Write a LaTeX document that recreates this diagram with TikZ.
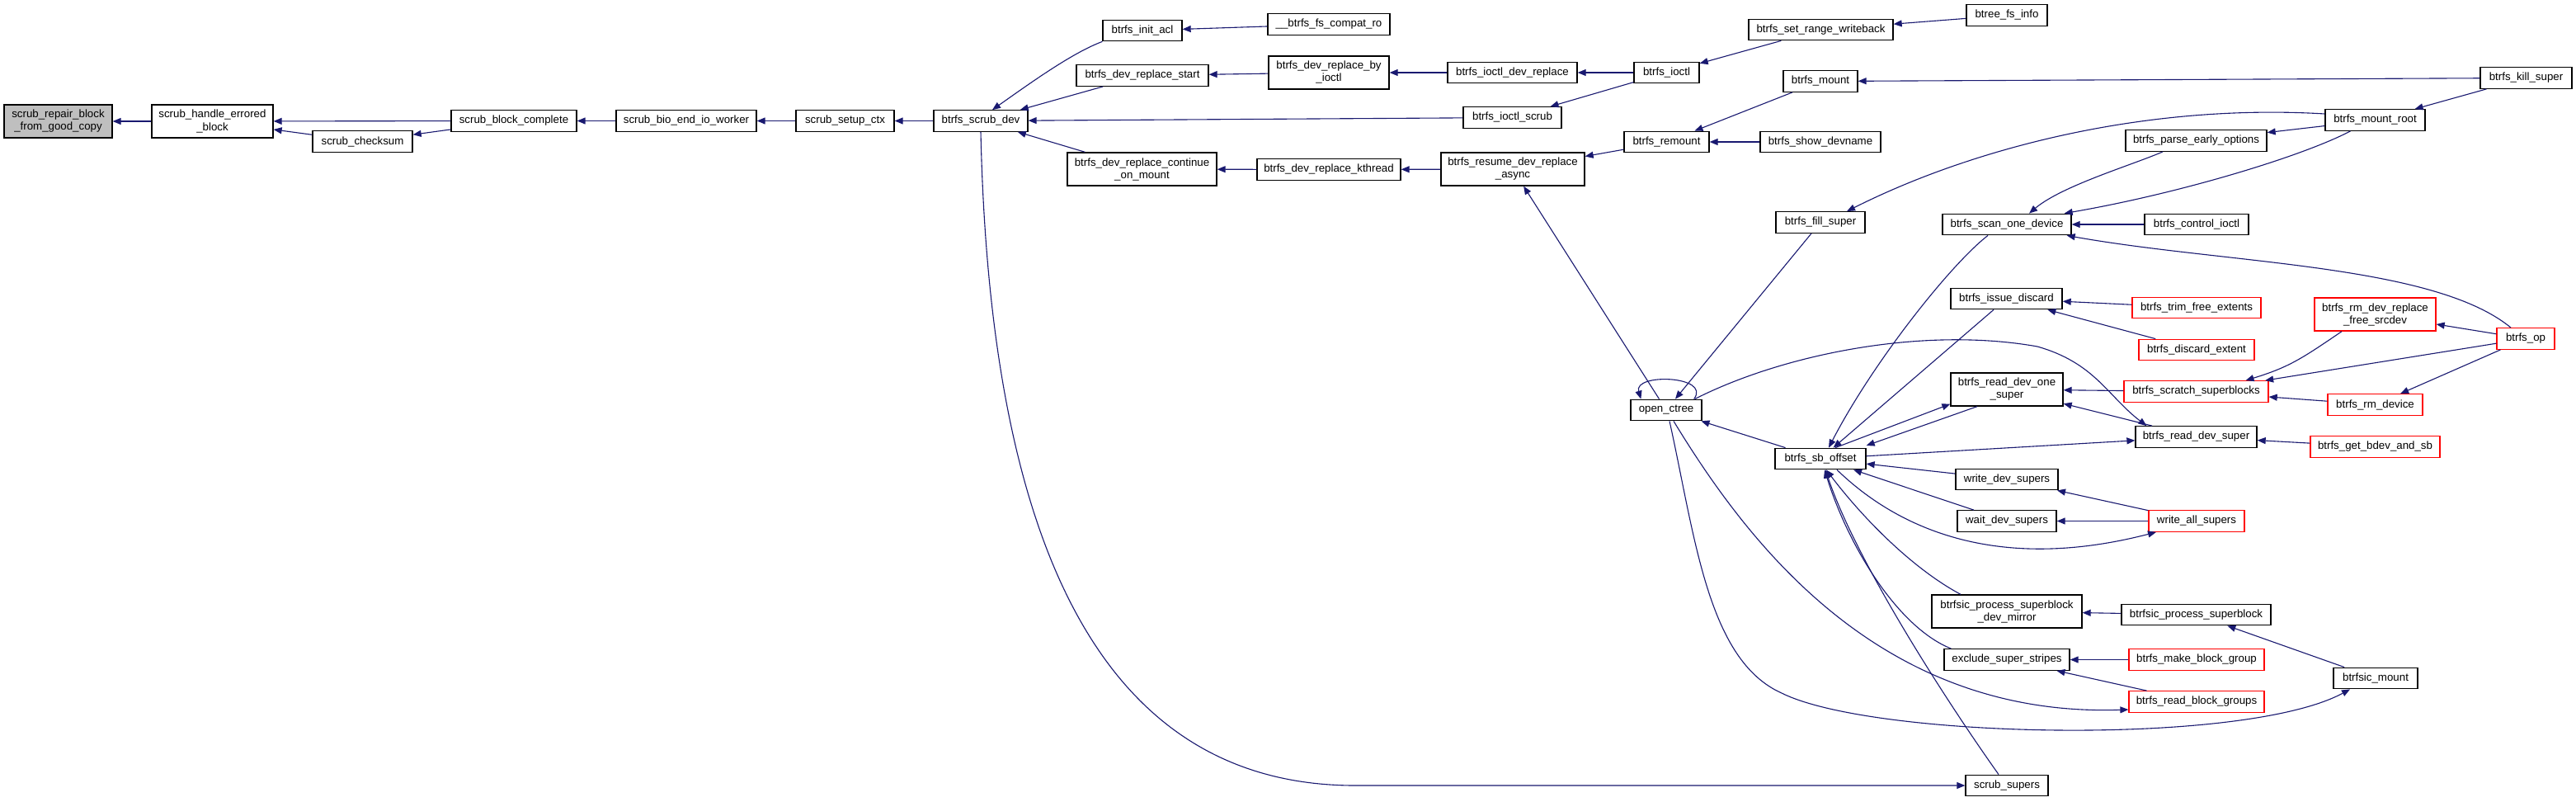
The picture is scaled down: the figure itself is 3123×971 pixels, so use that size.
\documentclass[tikz,border=0pt]{standalone}
\usepackage{fontspec}
\setmainfont{Liberation Sans}
\usetikzlibrary{arrows.meta}
\definecolor{edgeblue}{HTML}{191970}
\definecolor{rootgray}{HTML}{BFBFBF}

\begin{document}
\begin{tikzpicture}[x=1bp, y=-1bp,
      every node/.style={font={\fontsize{13.3bp}{15bp}\selectfont}},
      func/.style={draw=black, fill=white, line width=1.3bp, inner sep=0pt,
        minimum height=25.5bp, align=center},
      trunc/.style={func, draw=red},
      rootfn/.style={func, fill=rootgray},
      twoline/.style={minimum height=40bp},
      calledge/.style={draw=edgeblue, line width=1.1bp,
        -{Triangle[length=10bp, width=8bp]}}]
    \fill[white] (0,0) rectangle (3123,971);
    \useasboundingbox (0,0) rectangle (3123,971);

    \node[rootfn, twoline, minimum width=131bp] (repair) at (70.5,147) {scrub\_repair\_block\\\_from\_good\_copy};
    \node[func, twoline, minimum width=147bp] (handle) at (257.5,147) {scrub\_handle\_errored\\\_block};
    \node[func, minimum width=121bp] (checksum) at (439.5,171.5) {scrub\_checksum};
    \node[func, minimum width=152bp] (blockcomplete) at (623,146.5) {scrub\_block\_complete};
    \node[func, minimum width=170bp] (bioend) at (832,146.5) {scrub\_bio\_end\_io\_worker};
    \node[func, minimum width=119bp] (setupctx) at (1024.5,146.5) {scrub\_setup\_ctx};
    \node[func, minimum width=114bp] (scrubdev) at (1189,146.5) {btrfs\_scrub\_dev};
    \node[func, minimum width=96bp] (initacl) at (1385,37) {btrfs\_init\_acl};
    \node[func, minimum width=160bp] (replacestart) at (1385,91.5) {btrfs\_dev\_replace\_start};
    \node[func, twoline, minimum width=181bp] (continuemount) at (1384.5,205) {btrfs\_dev\_replace\_continue\\\_on\_mount};
    \node[func, minimum width=148bp] (compatro) at (1611,29.5) {\_\_btrfs\_fs\_compat\_ro};
    \node[func, twoline, minimum width=146bp] (replacebyioctl) at (1611,88) {btrfs\_dev\_replace\_by\\\_ioctl};
    \node[func, minimum width=174bp] (kthread) at (1611,205.5) {btrfs\_dev\_replace\_kthread};
    \node[func, minimum width=157bp] (ioctldevreplace) at (1833.5,88) {btrfs\_ioctl\_dev\_replace};
    \node[func, minimum width=119bp] (ioctlscrub) at (1833.5,142.5) {btrfs\_ioctl\_scrub};
    \node[func, twoline, minimum width=174bp] (resumeasync) at (1834,205) {btrfs\_resume\_dev\_replace\\\_async};
    \node[func, minimum width=79bp] (ioctl) at (2020.5,88) {btrfs\_ioctl};
    \node[func, minimum width=103bp] (remount) at (2020.5,172) {btrfs\_remount};
    \node[func, minimum width=86bp] (opentree) at (2020,497) {open\_ctree};
    \node[func, minimum width=175bp] (setrange) at (2207.5,36) {btrfs\_set\_range\_writeback};
    \node[func, minimum width=90bp] (mount) at (2207,98.5) {btrfs\_mount};
    \node[func, minimum width=146bp] (showdevname) at (2207,172) {btrfs\_show\_devname};
    \node[func, minimum width=108bp] (fillsuper) at (2207,269.5) {btrfs\_fill\_super};
    \node[func, minimum width=110bp] (sboffset) at (2207,556) {btrfs\_sb\_offset};
    \node[func, minimum width=98bp] (btreefsinfo) at (2433,18.5) {btree\_fs\_info};
    \node[func, minimum width=156bp] (scanone) at (2433,272) {btrfs\_scan\_one\_device};
    \node[func, minimum width=135bp] (issuediscard) at (2432.5,362) {btrfs\_issue\_discard};
    \node[func, twoline, minimum width=136bp] (readdevone) at (2433,472) {btrfs\_read\_dev\_one\\\_super};
    \node[func, minimum width=124bp] (writedev) at (2433,581) {write\_dev\_supers};
    \node[func, minimum width=120bp] (waitdev) at (2433,631.5) {wait\_dev\_supers};
    \node[func, twoline, minimum width=182bp] (psdm) at (2433,741) {btrfsic\_process\_superblock\\\_dev\_mirror};
    \node[func, minimum width=152bp] (exclude) at (2433,799.5) {exclude\_super\_stripes};
    \node[func, minimum width=100bp] (scrubsupers) at (2433,952) {scrub\_supers};
    \node[func, minimum width=171bp] (parseearly) at (2662.5,170.5) {btrfs\_parse\_early\_options};
    \node[func, minimum width=126bp] (controlioctl) at (2663,272) {btrfs\_control\_ioctl};
    \node[trunc, minimum width=156bp] (trimfree) at (2663,373) {btrfs\_trim\_free\_extents};
    \node[trunc, minimum width=140bp] (discardextent) at (2663,424) {btrfs\_discard\_extent};
    \node[trunc, minimum width=175bp] (scratch) at (2662.5,474.5) {btrfs\_scratch\_superblocks};
    \node[func, minimum width=147bp] (readdevsuper) at (2662.5,529.5) {btrfs\_read\_dev\_super};
    \node[trunc, minimum width=116bp] (writeall) at (2663,631.5) {write\_all\_supers};
    \node[func, minimum width=181bp] (psb) at (2662.5,745) {btrfsic\_process\_superblock};
    \node[trunc, minimum width=164bp] (makebg) at (2663,799.5) {btrfs\_make\_block\_group};
    \node[trunc, minimum width=164bp] (readbg) at (2663,850.5) {btrfs\_read\_block\_groups};
    \node[func, minimum width=121bp] (mountroot) at (2879.5,145.5) {btrfs\_mount\_root};
    \node[trunc, twoline, minimum width=147bp] (rmdevreplace) at (2879.5,381) {btrfs\_rm\_dev\_replace\\\_free\_srcdev};
    \node[trunc, minimum width=115bp] (rmdevice) at (2879.5,490.5) {btrfs\_rm\_device};
    \node[trunc, minimum width=157bp] (getbdev) at (2879.5,541.5) {btrfs\_get\_bdev\_and\_sb};
    \node[func, minimum width=102bp] (btrfsicmount) at (2880,822) {btrfsic\_mount};
    \node[func, minimum width=111bp] (killsuper) at (3062.5,94.5) {btrfs\_kill\_super};
    \node[trunc, minimum width=70bp] (btrfsop) at (3062,410.5) {btrfs\_op};

    % scrub chain
    \draw[calledge] (handle) -- (repair);
    \draw[calledge] (blockcomplete) -- (handle);
    \draw[calledge] (checksum) -- (handle);
    \draw[calledge] (blockcomplete) -- (checksum);
    \draw[calledge] (bioend) -- (blockcomplete);
    \draw[calledge] (setupctx) -- (bioend);
    \draw[calledge] (scrubdev) -- (setupctx);
    \draw[calledge] (initacl.south west) .. controls (1300,64) and (1250,100) .. ([xshift=14bp]scrubdev.north);
    \draw[calledge] (replacestart) -- (scrubdev);
    \draw[calledge] (ioctlscrub) -- (scrubdev);
    \draw[calledge] (continuemount) -- (scrubdev);
    \draw[calledge] (scrubdev.south) .. controls (1200,650) and (1330,950) .. (1640,952) -- (scrubsupers.west);
    \draw[calledge] (compatro) -- (initacl);
    \draw[calledge] (replacebyioctl) -- (replacestart);
    \draw[calledge] (kthread) -- (continuemount);
    \draw[calledge] (ioctldevreplace) -- (replacebyioctl);
    \draw[calledge] (ioctl) -- (ioctldevreplace);
    \draw[calledge] (ioctl) -- (ioctlscrub);
    \draw[calledge] (setrange) -- (ioctl);
    \draw[calledge] (btreefsinfo) -- (setrange);
    \draw[calledge] (remount) -- (resumeasync);
    \draw[calledge] (resumeasync) -- (kthread);
    \draw[calledge] (mount) -- (remount);
    \draw[calledge] (showdevname) -- (remount);
    \draw[calledge] (killsuper) -- (mount);
    \draw[calledge] (killsuper) -- (mountroot);

    % mount and device scanning
    \draw[calledge] ([yshift=7.5bp]mountroot.west) .. controls (2600,125) and (2390,180) .. ([xshift=32bp]fillsuper.north);
    \draw[calledge] (mountroot) -- (parseearly);
    \draw[calledge] ([xshift=-30bp]mountroot.south) .. controls (2790,190) and (2640,235) .. ([xshift=-9bp]scanone.north east);
    \draw[calledge] ([xshift=-40.5bp]parseearly.south) .. controls (2585,200) and (2500,225) .. ([xshift=27bp]scanone.north);
    \draw[calledge] (controlioctl) -- (scanone);
    \draw[calledge] ([xshift=-18bp]btrfsop.north) .. controls (2950,320) and (2700,320) .. ([xshift=-6bp]scanone.south east);
    \draw[calledge] (fillsuper) -- (opentree);
    \draw[calledge] (opentree) -- (resumeasync);
    \draw[calledge] ([xshift=-10bp]opentree.north east) .. controls (2075,455) and (1980,452) .. ([xshift=13bp]opentree.north west);
    \draw[calledge] (sboffset) -- (opentree);
    \draw[calledge] ([xshift=-9bp]opentree.north east) .. controls (2160,430) and (2330,395) .. (2470,420)
          .. controls (2540,440) and (2555,480) .. ([xshift=14bp]readdevsuper.north west);
    \draw[calledge] ([xshift=9bp]opentree.south) .. controls (2120,660) and (2280,870) .. ([yshift=-9.5bp]readbg.west);
    \draw[calledge] ([xshift=4bp]opentree.south) .. controls (2055,650) and (2070,800) .. (2160,840)
          .. controls (2270,895) and (2720,905) .. ([xshift=-31bp]btrfsicmount.south);

    % super block offsets
    \draw[calledge] ([xshift=-23bp]scanone.south) .. controls (2365,320) and (2270,440) .. ([xshift=10bp]sboffset.north);
    \draw[calledge] (issuediscard) -- (sboffset);
    \draw[calledge] ([xshift=-36bp]readdevone.south) -- ([yshift=16bp]sboffset.east);
    \draw[calledge] ([xshift=18bp]sboffset.north) -- ([yshift=3bp]readdevone.south west);
    \draw[calledge] (sboffset) -- (readdevsuper);
    \draw[calledge] (readdevsuper) -- (readdevone);
    \draw[calledge] (scratch) -- (readdevone);
    \draw[calledge] (writedev) -- (sboffset);
    \draw[calledge] (waitdev) -- (sboffset);
    \draw[calledge] ([xshift=20bp]sboffset.south) .. controls (2300,640) and (2420,695) .. ([xshift=-49bp]writeall.south);
    \draw[calledge] ([xshift=-56bp]psdm.north) .. controls (2320,690) and (2260,630) .. ([xshift=7bp]sboffset.south);
    \draw[calledge] ([xshift=9bp]exclude.north west) .. controls (2300,760) and (2240,660) .. ([xshift=5bp]sboffset.south);
    \draw[calledge] ([xshift=-10bp]scrubsupers.north) .. controls (2360,850) and (2250,680) .. ([xshift=6bp]sboffset.south);

    % right-hand callers
    \draw[calledge] (trimfree) -- (issuediscard);
    \draw[calledge] (discardextent) -- (issuediscard);
    \draw[calledge] (btrfsop) -- (rmdevreplace);
    \draw[calledge] ([xshift=-40.5bp]rmdevreplace.south) .. controls (2790,435) and (2775,445) .. ([xshift=60bp]scratch.north);
    \draw[calledge] (btrfsop) -- (scratch);
    \draw[calledge] (rmdevice) -- (scratch);
    \draw[calledge] (btrfsop) -- (rmdevice);
    \draw[calledge] (getbdev) -- (readdevsuper);
    \draw[calledge] (writeall) -- (writedev);
    \draw[calledge] (writeall) -- (waitdev);
    \draw[calledge] (psb) -- (psdm);
    \draw[calledge] (btrfsicmount) -- (psb);
    \draw[calledge] (makebg) -- (exclude);
    \draw[calledge] (readbg) -- (exclude);
  \end{tikzpicture}
\end{document}
